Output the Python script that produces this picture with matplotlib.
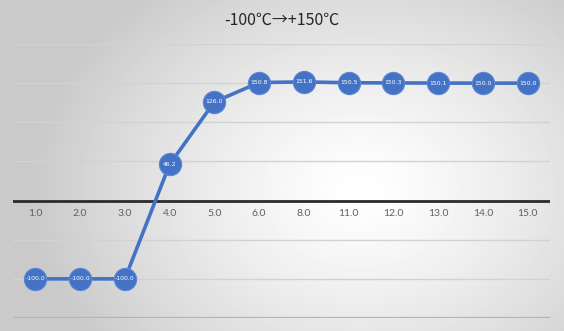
import numpy as np
import matplotlib.pyplot as plt

# ============================================================
# DATA
# ============================================================

categories = ["1.0", "2.0", "3.0", "4.0", "5.0", "6.0",
              "8.0", "11.0", "12.0", "13.0", "14.0", "15.0"]

temps = [-100.0, -100.0, -100.0, 46.2, 126.0, 150.8,
         151.6, 150.5, 150.3, 150.1, 150.0, 150.0]

title = "-100℃→+150℃"

y_grid = [-150, -100, -50, 50, 100, 150, 200]

# ============================================================
# FIGURE + GRADIENT BACKGROUND
# ============================================================

fig = plt.figure(figsize=(5.64, 3.31), dpi=100)

bg = fig.add_axes([0, 0, 1, 1], zorder=0)
yy, xx = np.mgrid[0:331, 0:564]
r = np.sqrt(((xx - 360) / 330.0) ** 2 + ((yy - 190) / 260.0) ** 2)
shade = 1.0 - 0.21 * np.clip(r, 0, 1) ** 1.3
bg.imshow(shade, cmap="gray", vmin=0, vmax=1, aspect="auto",
          extent=[0, 1, 0, 1], origin="upper")
bg.axis("off")

ax = fig.add_axes([13 / 564, 1 - 318 / 331, 537 / 564, 274 / 331], zorder=1)
ax.patch.set_alpha(0)

x = np.arange(len(categories))

for g in y_grid:
    ax.axhline(g, color="#d2d2d2", linewidth=1.0, zorder=1)
ax.axhline(-150, color="#b4b4b4", linewidth=1.6, zorder=1)
ax.axhline(0, color="#2b2b2b", linewidth=2.0, zorder=2)

ax.plot(x, temps, color="#4472C4", linewidth=2.6, zorder=3)
ax.plot(x, temps, linestyle="none", marker="o", markersize=16,
        markerfacecolor="#4472C4", markeredgecolor="#5b86d4",
        markeredgewidth=0.8, zorder=4)

for xi, v in zip(x, temps):
    ax.text(xi, v, f"{v:.1f}", color="white", fontsize=4.4,
            ha="center", va="center", zorder=5)

for xi, c in zip(x, categories):
    ax.text(xi, -17, c, color="#606060", fontsize=7.5,
            ha="center", va="center", family="Lato", zorder=5)

ax.set_xlim(-0.5, len(categories) - 0.5)
ax.set_ylim(-150, 200)
ax.set_xticks([])
ax.set_yticks([])
for s in ax.spines.values():
    s.set_visible(False)

fig.text(0.5, 1 - 20 / 331, title, ha="center", va="center",
         fontsize=11.5, color="#262626",
         family=["Noto Sans CJK KR", "DejaVu Sans"])

plt.savefig("out.png", dpi=100)
